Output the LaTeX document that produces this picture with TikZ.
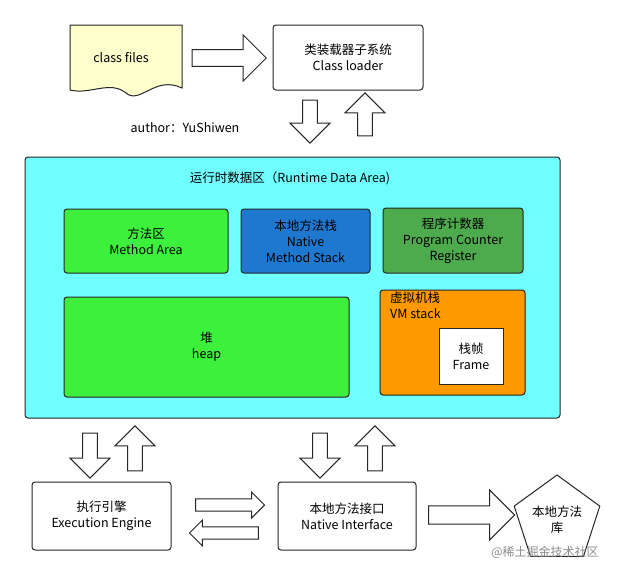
\documentclass[tikz,border=0pt]{standalone}
\usepackage{fontspec}
\setmainfont{Noto Sans CJK SC}
\usetikzlibrary{shapes.arrows,shapes.geometric}
\definecolor{cyanbg}{HTML}{70FFFF}
\definecolor{gr}{HTML}{3CF03C}
\definecolor{bl}{HTML}{1E78D0}
\definecolor{dg}{HTML}{4DAA4D}
\definecolor{og}{HTML}{FF9900}
\definecolor{doc}{HTML}{FFFFCC}
\begin{document}
\begin{tikzpicture}[x=1pt,y=-1pt,font=\fontsize{12.5}{16}\selectfont,
  box/.style={draw=black!85,line width=1pt,rounded corners=3pt,align=center,inner sep=0pt},
  hr/.style={single arrow,draw=black!85,fill=white,line width=1pt,minimum height=#1,minimum width=46pt,single arrow head extend=6pt,inner sep=3pt},
  vr/.style={hr=#1,minimum width=40pt,shape border rotate=90},
  vd/.style={hr=#1,minimum width=40pt,shape border rotate=270}]
\useasboundingbox (0,0) rectangle (617,576);
% class files
\draw[fill=doc,draw=black!85,line width=1pt] (70,25) -- (182,25) -- (182,88) .. controls (155,75) and (140,105) .. (126,93) .. controls (110,80) and (90,95) .. (70,90) -- cycle;
\node (cf) at (121,58) {class files};
\node[box,minimum width=150pt,minimum height=65pt] (cl) at (348,57.5) {类装载器子系统\\Class loader};
\node[hr=74pt] (a1) at (225,58) {};
\node[vd=43pt] (a2) at (310,118) {};
\node[vr=43pt] (a3) at (365,118) {};
\node (au) at (185,128) {author：YuShiwen};
% runtime
\node[box,fill=cyanbg,minimum width=535pt,minimum height=261pt] (rt) at (292.5,287.5) {};
\node (rtt) at (290,178) {运行时数据区（Runtime Data Area)};
\node[box,fill=gr,minimum width=164pt,minimum height=64pt] (ma) at (146,241) {方法区\\Method Area};
\node[box,fill=bl,minimum width=129pt,minimum height=64pt] (ns) at (305.5,241) {本地方法栈\\Native\\Method Stack};
\node[box,fill=dg,minimum width=140pt,minimum height=65pt] (pc) at (453,240.5) {程序计数器\\Program Counter\\Register};
\node[box,fill=gr,minimum width=285pt,minimum height=100pt] (hp) at (206.5,347) {堆\\heap};
\node[box,fill=og,minimum width=145pt,minimum height=105pt] (vm) at (452.5,342.5) {};
\node[align=left,anchor=north west,inner sep=0pt] (vmt) at (390,292) {虚拟机栈\\VM stack};
\node[draw=black!85,line width=1pt,fill=white,minimum width=64pt,minimum height=56pt,align=center,inner sep=0pt] (fr) at (471,356) {栈帧\\Frame};
% lower arrows
\node[vd=45pt] (b1) at (90,452) {};
\node[vr=45pt] (b2) at (135,452) {};
\node[vd=45pt] (b3) at (320,452) {};
\node[vr=45pt] (b4) at (375,452) {};
\node[box,minimum width=139pt,minimum height=68pt] (ee) at (101.5,516) {执行引擎\\Execution Engine};
\node[box,minimum width=138pt,minimum height=68pt] (ni) at (347,516) {本地方法接口\\Native Interface};
\node[hr=69pt,minimum width=26pt,single arrow head extend=4pt] (c1) at (227,505) {};
\node[hr=69pt,minimum width=26pt,single arrow head extend=4pt,shape border rotate=180] (c2) at (227,533) {};
\node[hr=86pt,minimum width=50pt] (c3) at (467,515) {};
\node[regular polygon,regular polygon sides=5,draw=black!85,line width=1pt,fill=white,minimum size=90pt,align=center,inner sep=0pt] (lib) at (557,520) {本地方法\\库};
\node[text=black!45,font=\fontsize{12}{14}\selectfont] (wm) at (545,552) {@稀土掘金技术社区};
\end{tikzpicture}
\end{document}
